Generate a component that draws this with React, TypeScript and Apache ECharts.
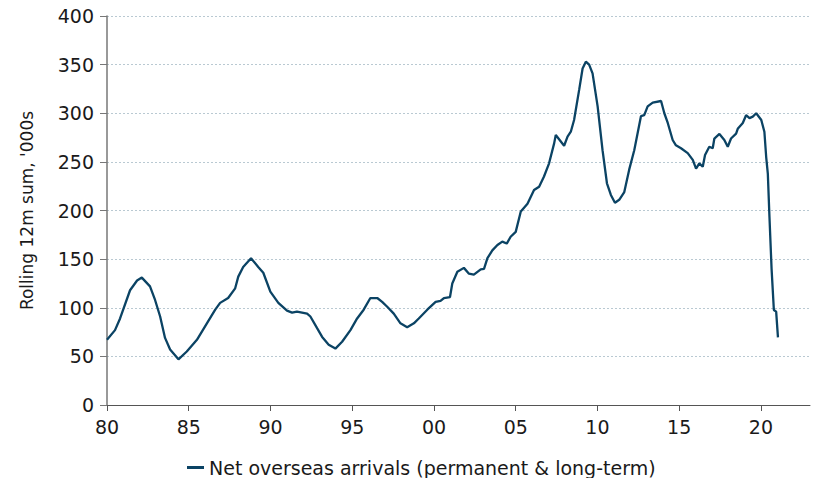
import React, { useEffect, useRef } from "react";
import * as echarts from "echarts";

const years: number[] = [
  1980.0, 1980.49, 1980.8, 1981.41, 1981.84, 1982.13, 1982.63, 1982.94, 1983.25, 1983.55,
  1983.86, 1984.37, 1984.88, 1985.5, 1986.11, 1986.62, 1986.92, 1987.41, 1987.84, 1988.03,
  1988.33, 1988.81, 1989.25, 1989.56, 1989.99, 1990.48, 1991.01, 1991.32, 1991.62, 1991.93,
  1992.24, 1992.44, 1992.85, 1993.16, 1993.56, 1993.97, 1994.38, 1994.89, 1995.3, 1995.7,
  1996.11, 1996.53, 1996.83, 1997.14, 1997.54, 1997.95, 1998.36, 1998.77, 1999.07, 1999.59,
  2000.1, 2000.4, 2000.61, 2000.98, 2001.12, 2001.43, 2001.83, 2002.14, 2002.44, 2002.86,
  2003.06, 2003.27, 2003.57, 2003.88, 2004.18, 2004.45, 2004.69, 2005.0, 2005.31, 2005.72,
  2006.12, 2006.43, 2006.73, 2007.04, 2007.35, 2007.45, 2007.96, 2008.17, 2008.37, 2008.57,
  2008.88, 2009.09, 2009.29, 2009.49, 2009.7, 2010.01, 2010.31, 2010.58, 2010.82, 2011.07,
  2011.33, 2011.64, 2011.94, 2012.25, 2012.66, 2012.86, 2013.07, 2013.38, 2013.89, 2014.09,
  2014.3, 2014.6, 2014.8, 2015.11, 2015.52, 2015.83, 2016.03, 2016.23, 2016.44, 2016.58,
  2016.84, 2017.05, 2017.15, 2017.46, 2017.76, 2017.97, 2018.17, 2018.48, 2018.58, 2018.89,
  2019.09, 2019.3, 2019.5, 2019.71, 2020.02, 2020.21, 2020.32, 2020.42, 2020.52, 2020.65,
  2020.79, 2020.93, 2021.04,
];

const arrivals: number[] = [
  67, 77, 89, 118, 128, 131, 122, 108, 91, 69,
  57, 47, 55, 67, 84, 98, 105, 110, 120, 132,
  142, 151, 142, 136, 116.5, 105, 97, 95, 96, 95,
  94, 91, 79, 70, 62, 58, 65, 77, 89, 98,
  110, 110, 106, 101, 94, 84, 80, 84, 89, 98,
  106, 107, 110, 111, 125, 137, 141, 135, 134, 139.5,
  140, 151, 159, 164.5, 168, 166, 173, 178, 199, 207,
  221, 224.5, 235, 248.5, 269, 277.6, 266.6, 276, 281, 293,
  324, 346, 353, 350, 341, 307, 262, 228, 216, 208,
  211, 219, 242, 262, 297, 298, 307, 311, 312.6, 300,
  290, 272.5, 267, 264, 259, 252, 243, 248.5, 245, 257,
  265.6, 264, 274, 278.7, 272.5, 265.6, 274, 279, 284, 290,
  298, 295, 296.5, 300, 293, 281, 255, 238, 193.6, 140,
  97.7, 96, 69.6,
];

const xTickValues: number[] = [1980, 1985, 1990, 1995, 2000, 2005, 2010, 2015, 2020];
const seriesName = "Net overseas arrivals (permanent & long-term)";
const yAxisTitle = "Rolling 12m sum, '000s";

const FONT = "DejaVu Sans, Verdana, sans-serif";
const LINE_COLOR = "#0b4364";
const TEXT_COLOR = "#1a1a1a";

export default function App() {
  const ref = useRef<HTMLDivElement>(null);
  useEffect(() => {
    document.body.style.margin = "0";
    if (!ref.current) return;
    const chart = echarts.init(ref.current, undefined, { renderer: "svg" });
    const data = years.map((y, i) => [y, arrivals[i]]);
    chart.setOption({
      animation: false,
      textStyle: { fontFamily: FONT },
      grid: { left: 107, right: 3, top: 16, bottom: 73, containLabel: false },
      legend: {
        top: 453,
        left: 182,
        icon: "rect",
        itemWidth: 17,
        itemHeight: 3,
        textStyle: { fontFamily: FONT, fontSize: 19, color: TEXT_COLOR },
        data: [seriesName],
      },
      xAxis: {
        type: "value",
        min: 1980,
        max: 2023,
        interval: 5,
        splitLine: { show: false },
        axisLine: { show: true, lineStyle: { color: "#555555", width: 1 } },
        axisTick: {
          show: true,
          length: 6,
          customValues: xTickValues,
          lineStyle: { color: "#555555" },
        },
        axisLabel: {
          customValues: xTickValues,
          margin: 12,
          fontFamily: FONT,
          fontSize: 19,
          color: TEXT_COLOR,
          formatter: (v: number) => String(Math.round(v) % 100).padStart(2, "0"),
        },
      },
      yAxis: {
        type: "value",
        min: 0,
        max: 400,
        interval: 50,
        name: yAxisTitle,
        nameLocation: "middle",
        nameRotate: 90,
        nameGap: 72,
        nameTextStyle: { fontFamily: FONT, fontSize: 17, color: TEXT_COLOR },
        axisLine: { show: true, lineStyle: { color: "#777777", width: 1.5 } },
        axisTick: { show: true, length: 7, lineStyle: { color: "#777777" } },
        axisLabel: { margin: 13, fontFamily: FONT, fontSize: 19, color: TEXT_COLOR },
        splitLine: { show: true, lineStyle: { color: "#b9c9d2", type: [2, 2], width: 1 } },
      },
      series: [
        {
          name: seriesName,
          type: "line",
          data,
          showSymbol: false,
          symbol: "none",
          lineStyle: { color: LINE_COLOR, width: 2.3 },
          itemStyle: { color: LINE_COLOR },
        },
      ],
    });
    return () => chart.dispose();
  }, []);
  return <div ref={ref} style={{ width: 813, height: 478 }} />;
}
